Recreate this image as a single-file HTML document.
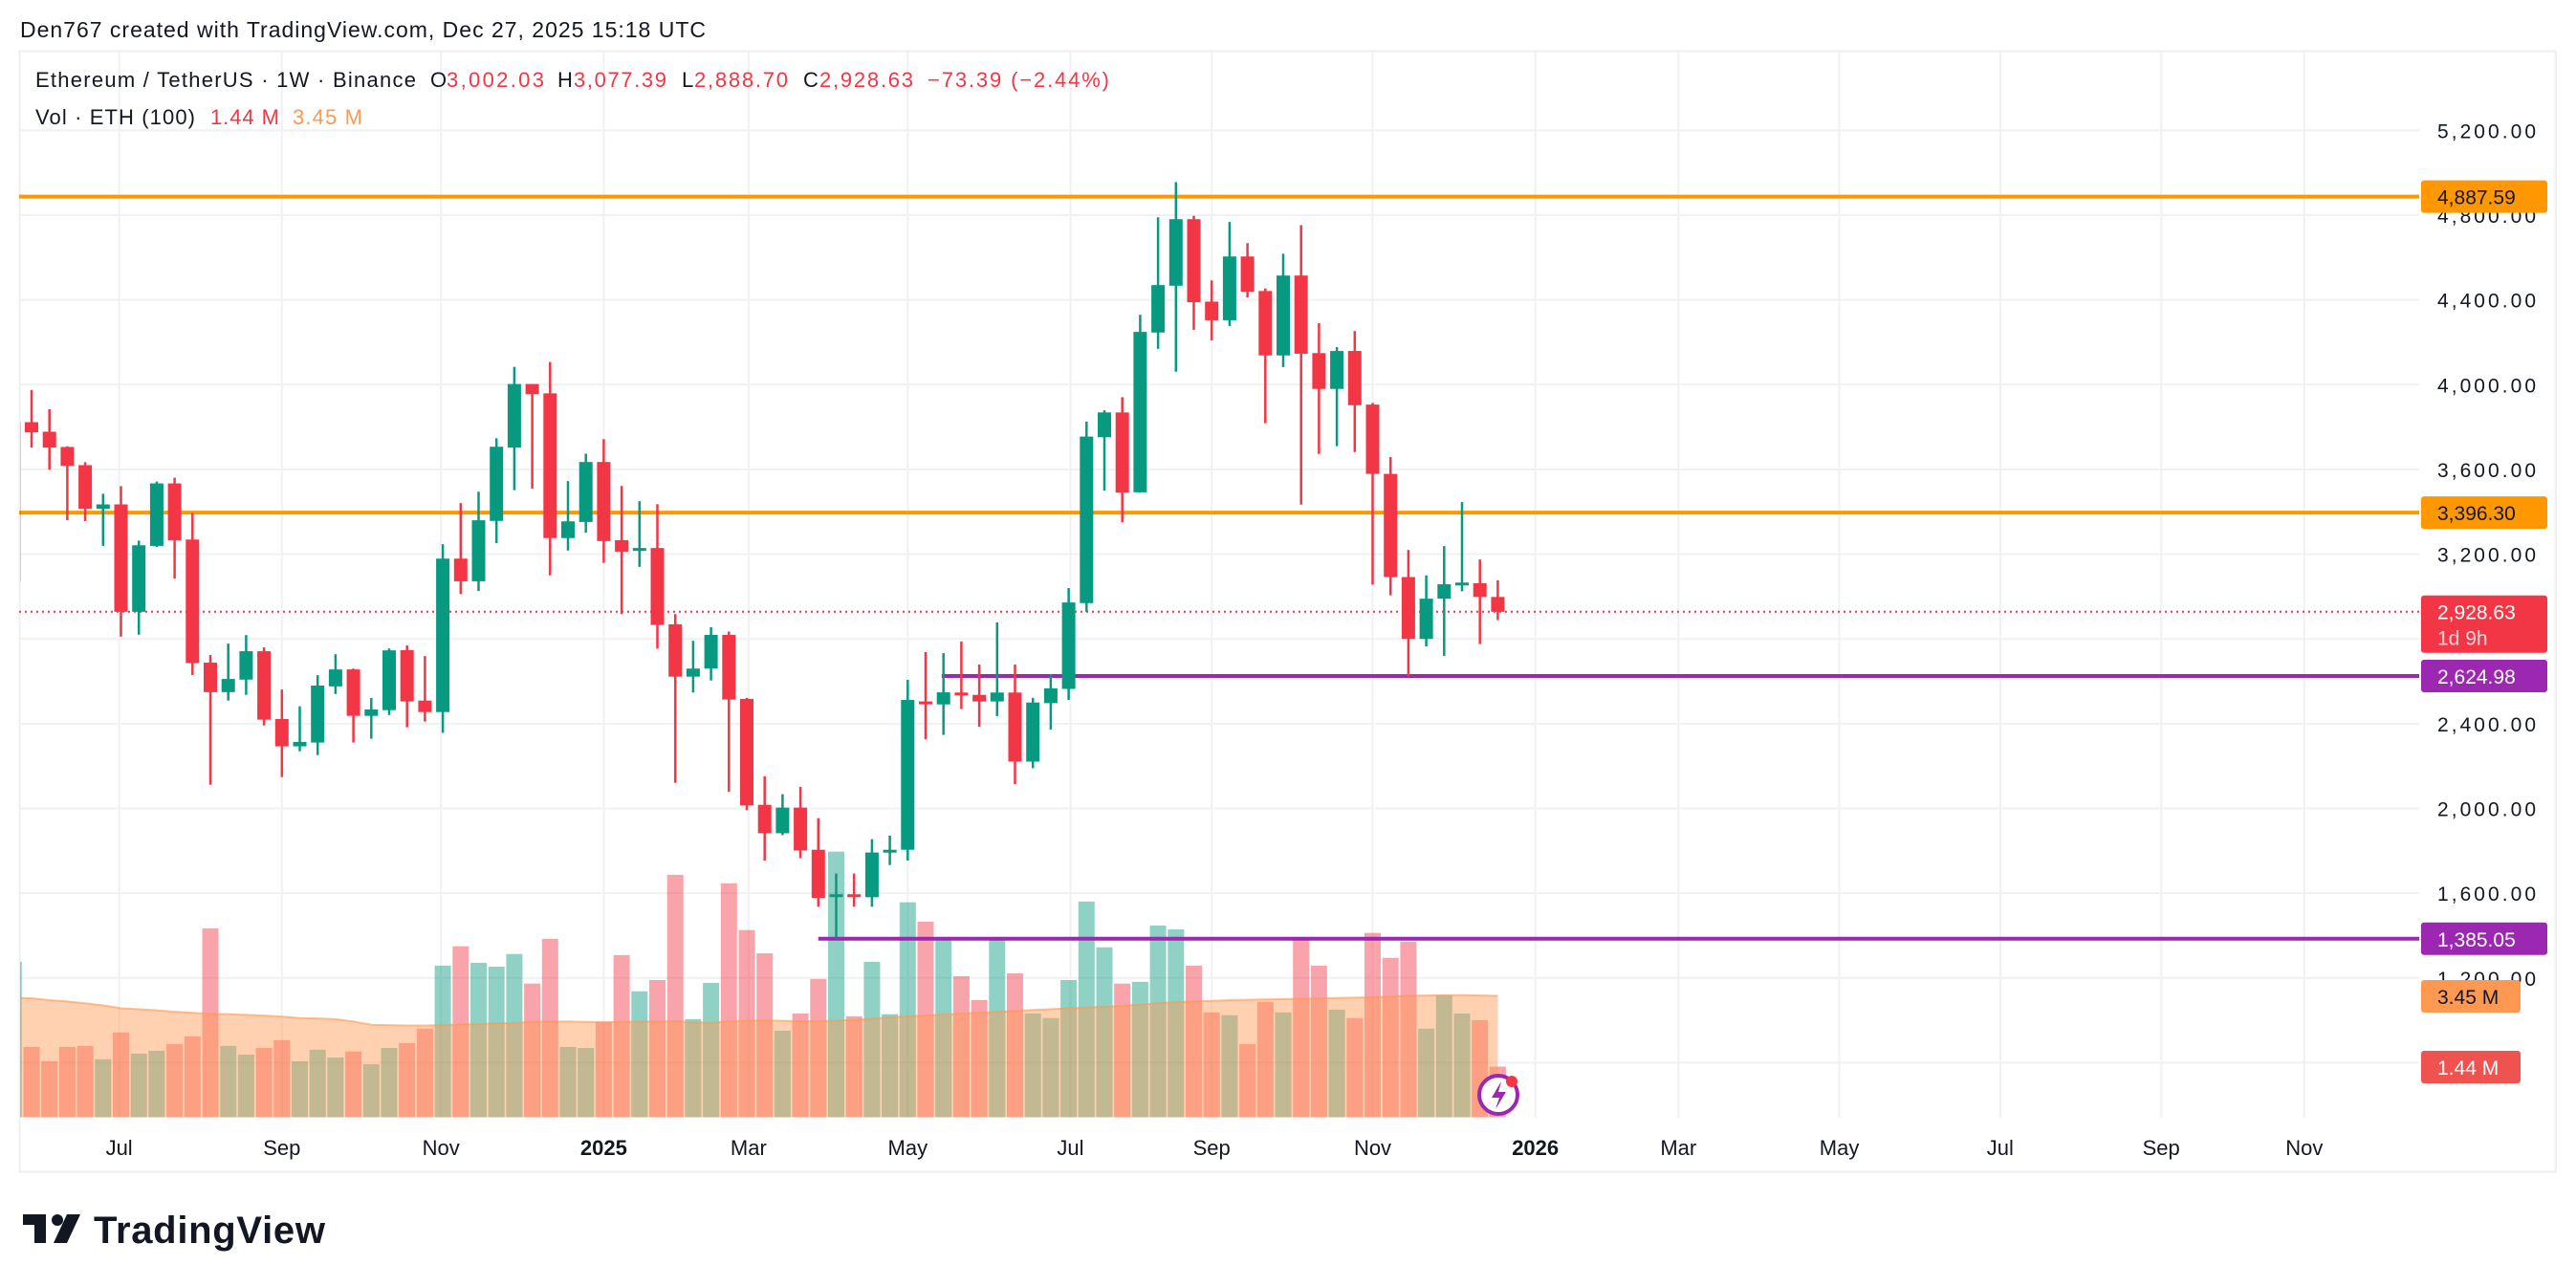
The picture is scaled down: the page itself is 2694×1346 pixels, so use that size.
<!DOCTYPE html>
<html><head><meta charset="utf-8">
<style>
html,body{margin:0;padding:0;background:#fff;}
svg{display:block;font-family:"Liberation Sans",Arial,sans-serif;}
</style></head>
<body>
<svg id="chart" width="2694" height="1346" viewBox="0 0 2694 1346" xmlns="http://www.w3.org/2000/svg">
  <rect x="0" y="0" width="2694" height="1346" fill="#ffffff"/>
  <text x="21" y="39" font-size="23" fill="#131722" textLength="717">Den767 created with TradingView.com, Dec 27, 2025 15:18 UTC</text>
  <rect x="20.5" y="53.5" width="2652" height="1172" fill="none" stroke="#eeeff2" stroke-width="2"/>
  <line x1="2673" y1="54" x2="2673" y2="1226" stroke="#eeeff2" stroke-width="2"/>
  <g id="grid"></g>
  <g id="vol"></g>
  <g id="levels"></g>
  <g id="candles"></g>
  <g id="axis"></g>
  <g id="taxis"></g>

  <g font-size="22">
    <text x="37" y="91" fill="#131722" textLength="398">Ethereum / TetherUS · 1W · Binance</text>
    <text x="450" y="91" fill="#131722">O</text>
    <text x="467" y="91" fill="#F23645" textLength="102">3,002.03</text>
    <text x="583" y="91" fill="#131722">H</text>
    <text x="600" y="91" fill="#F23645" textLength="97">3,077.39</text>
    <text x="713" y="91" fill="#131722">L</text>
    <text x="726" y="91" fill="#F23645" textLength="98">2,888.70</text>
    <text x="840" y="91" fill="#131722">C</text>
    <text x="857" y="91" fill="#F23645" textLength="98">2,928.63</text>
    <text x="970" y="91" fill="#F23645" textLength="190">−73.39 (−2.44%)</text>
    <text x="37" y="130" fill="#131722" textLength="167">Vol · ETH (100)</text>
    <text x="220" y="130" fill="#F23645" textLength="72">1.44 M</text>
    <text x="306" y="130" fill="#FF9850" textLength="73">3.45 M</text>
  </g>

  <g>
    <path d="M24 1270 H48 V1300 H36 V1281 H24 Z" fill="#131722"/>
    <circle cx="60" cy="1276" r="6" fill="#131722"/>
    <path d="M70 1270 H84 L70 1300 H56 Z" fill="#131722"/>
    <text x="98" y="1300" font-size="40" font-weight="bold" fill="#131722" textLength="242">TradingView</text>
  </g>

  <g>
    <circle cx="1567" cy="1145" r="20" fill="#fff" stroke="#9C27B0" stroke-width="4"/>
    <path d="M1570 1131 L1560 1148 H1568 L1564 1160 L1575 1142 H1567 Z" fill="#9C27B0"/>
    <circle cx="1581" cy="1131" r="6" fill="#F23645"/>
  </g>
</svg>
<script>
// ---- data (first element is a partially visible week at the left edge) ----
const opens  = [3070,3823,3778,3706,3620,3414,3435,2928,3239,3534,3269,2688,2549,2608,2742,2422,2293,2311,2576,2656,2437,2464,2747,2509,2455,3179,3072,3357,3703,4003,3959,3276,3352,3635,3266,3221,3229,2869,2622,2660,2819,2517,2017,1883,2004,1805,1588,1595,1581,1798,1805,2505,2491,2547,2536,2505,2547,2221,2497,2564,2969,3752,3869,3492,4246,4467,4781,4392,4304,4605,4442,4138,4515,4149,3980,4159,3906,3579,3092,2800,2990,3063,3063,2998];
const highs  = [3830,3975,3884,3709,3634,3485,3521,3264,3543,3561,3395,2724,2778,2818,2760,2561,2482,2629,2728,2660,2521,2755,2769,2719,3247,3441,3495,3747,4084,4003,4107,3545,3674,3743,3522,3450,3436,2917,2791,2855,2835,2522,2152,2067,2102,1954,1693,1693,1855,1872,2607,2738,2733,2788,2679,2878,2679,2522,2633,3040,3826,3879,3941,4330,4790,4956,4797,4492,4768,4668,4454,4618,4753,4290,4177,4253,3914,3658,3220,3100,3238,3446,3175,3077];
const lows   = [3060,3703,3599,3360,3356,3239,2811,2820,3234,3085,2630,2112,2509,2536,2392,2148,2270,2252,2540,2311,2329,2441,2383,2410,2357,3012,3026,3252,3502,3510,3100,3217,3302,3159,2917,3140,2754,2121,2547,2604,2078,1992,1754,1874,1765,1536,1390,1536,1536,1733,1754,2326,2347,2469,2385,2436,2114,2190,2372,2512,2928,3500,3350,3492,4169,4061,4259,4209,4277,4412,3818,4083,3434,3673,3710,3682,3056,3006,2623,2765,2720,3025,2776,2889];
const closes = [3823,3775,3703,3617,3414,3435,2928,3242,3534,3266,2686,2549,2611,2742,2419,2293,2314,2580,2656,2437,2467,2746,2505,2455,3179,3072,3360,3707,4003,3955,3276,3355,3635,3262,3212,3229,2866,2622,2660,2819,2514,2014,1883,2004,1802,1578,1595,1588,1792,1805,2512,2495,2548,2536,2505,2547,2221,2500,2567,2972,3755,3869,3491,4249,4470,4781,4389,4304,4605,4439,4138,4515,4146,3980,4159,3903,3579,3092,2800,2990,3058,3066,2998,2928];
const volumes = [4.42,2.00,1.59,2.00,2.03,1.65,2.41,1.81,1.89,2.08,2.30,5.37,2.03,1.78,1.97,2.19,1.59,1.92,1.70,1.87,1.51,1.97,2.11,2.52,4.31,4.86,4.39,4.28,4.64,3.80,5.07,2.00,1.97,2.71,4.61,3.58,3.90,6.89,2.79,3.82,6.65,5.32,4.66,2.46,2.95,3.93,7.55,2.87,4.42,2.93,6.11,5.56,5.05,4.01,3.33,5.05,4.09,2.95,2.82,3.90,6.13,4.83,3.80,3.85,5.45,5.34,4.31,2.98,2.90,2.08,3.28,2.98,5.07,4.31,3.06,2.82,5.24,4.53,4.99,2.52,3.47,2.95,2.76,1.44];
const volumeMA = [3.40,3.38,3.33,3.29,3.24,3.18,3.10,3.07,3.04,3.00,2.97,2.94,2.93,2.91,2.89,2.86,2.82,2.81,2.79,2.72,2.63,2.62,2.61,2.61,2.62,2.64,2.65,2.67,2.68,2.71,2.72,2.72,2.71,2.70,2.71,2.72,2.72,2.73,2.70,2.68,2.73,2.74,2.75,2.74,2.73,2.73,2.74,2.77,2.80,2.84,2.87,2.89,2.92,2.95,2.97,3.00,3.02,3.05,3.07,3.10,3.12,3.14,3.17,3.20,3.24,3.27,3.29,3.31,3.33,3.34,3.35,3.36,3.37,3.38,3.39,3.40,3.41,3.43,3.45,3.46,3.47,3.47,3.46,3.45];
const priceTicks = [5200,4800,4400,4000,3600,3200,2800,2400,2000,1600,1200,800];
const priceTickLabels = ["5,200.00","4,800.00","4,400.00","4,000.00","3,600.00","3,200.00","","2,400.00","2,000.00","1,600.00","1,200.00",""];
const timeLabels = ["Jul","Sep","Nov","2025","Mar","May","Jul","Sep","Nov","2026","Mar","May","Jul","Sep","Nov"];
const timeLabelWeeks = [5.9,15.0,23.9,33.0,41.1,50.0,59.1,67.0,76.0,85.1,93.1,102.1,111.1,120.1,128.1];
const levelPrices = [4887.59,3396.30];
const supportPrices = [2624.98,1385.05];
const supportStartWeek = [51.9,45.0];
const lastPrice = 2928.63;

// ---- scales ----
const NS = "http://www.w3.org/2000/svg";
const PLOT_L = 20, PLOT_R = 2530;
function yP(p){ return 402.3 - (p - 4000) * 0.2216; }
function xI(i){ return 14.3 + i * 18.7; }
const VOL_BASE = 1168.5, VOL_PX = 36.8;
function yV(v){ return VOL_BASE - v * VOL_PX; }
function mk(tag, attrs, parent){
  const e = document.createElementNS(NS, tag);
  for (const k in attrs) e.setAttribute(k, attrs[k]);
  parent.appendChild(e);
  return e;
}
const GREEN = "#089981", RED = "#F23645";

const defs = mk("defs", {}, document.getElementById("chart"));
const cp = mk("clipPath", {id:"plotclip"}, defs);
mk("rect", {x:PLOT_L+1, y:54, width:PLOT_R-PLOT_L, height:1115}, cp);

// grid
const grid = document.getElementById("grid");
priceTicks.forEach(function(p){
  const l = mk("line", {x1:PLOT_L, x2:PLOT_R, y1:yP(p), y2:yP(p), stroke:"#f0f1f3", "stroke-width":2}, grid);
  
  
});
timeLabelWeeks.forEach(function(w){
  const l = mk("line", {x1:xI(w), x2:xI(w), y1:54, y2:1169, stroke:"#f0f1f3", "stroke-width":2}, grid);
  
  
});

// volume
const vol = document.getElementById("vol");
vol.setAttribute("clip-path","url(#plotclip)");
volumes.forEach(function(v, i){
  const up = closes[i] >= opens[i];
  const r = mk("rect", {x:xI(i)-8.5, y:yV(v), width:17, height:v*VOL_PX, fill: up ? "rgba(8,153,129,0.45)" : "rgba(242,54,69,0.45)"}, vol);
  
  
});
let area = "M" + xI(0) + " " + VOL_BASE;
let line = "";
volumeMA.forEach(function(m, i){
  area += " L" + xI(i) + " " + yV(m);
  line += (i ? " L" : "M") + xI(i) + " " + yV(m);
});
area += " L" + xI(volumeMA.length-1) + " " + VOL_BASE + " Z";
const ar = mk("path", {d:area, fill:"rgba(255,152,80,0.45)"}, vol);


const ln = mk("path", {d:line, fill:"none", stroke:"rgba(255,152,80,0.6)", "stroke-width":2}, vol);



// level lines
const lv = document.getElementById("levels");
levelPrices.forEach(function(p){
  const l = mk("line", {x1:PLOT_L, x2:PLOT_R, y1:yP(p), y2:yP(p), stroke:"#FF9800", "stroke-width":4}, lv);
  
  
});
supportPrices.forEach(function(p, k){
  const l = mk("line", {x1:xI(supportStartWeek[k]), x2:PLOT_R, y1:yP(p), y2:yP(p), stroke:"#9C27B0", "stroke-width":4}, lv);
  
  
});
const cl = mk("line", {x1:PLOT_L, x2:PLOT_R, y1:yP(lastPrice), y2:yP(lastPrice), stroke:"#F23645", "stroke-width":2, "stroke-dasharray":"2 4"}, lv);



// candles
const cg = document.getElementById("candles");
cg.setAttribute("clip-path","url(#plotclip)");
opens.forEach(function(o, i){
  const c = closes[i], up = c >= o, col = up ? GREEN : RED;
  const g = mk("g", {}, cg);
  
  
  mk("rect", {x:xI(i)-1.25, y:yP(highs[i]), width:2.5, height:Math.max(1, yP(lows[i])-yP(highs[i])), fill:col}, g);
  const top = yP(Math.max(o,c)), bot = yP(Math.min(o,c));
  mk("rect", {x:xI(i)-7, y:top, width:14, height:Math.max(3, bot-top), fill:col}, g);
});

// price axis
const ax = document.getElementById("axis");
priceTicks.forEach(function(p, k){
  if (!priceTickLabels[k]) return;
  const t = mk("text", {x:2549, y:yP(p)+8, "font-size":21, fill:"#131722", textLength:103}, ax);
  t.textContent = priceTickLabels[k];
  
  
});
function badge(y, h, w, fill, lines, color, name){
  const g = mk("g", {}, ax);
  
  
  mk("rect", {x:2532, y:y, width:w, height:h, rx:3, fill:fill}, g);
  lines.forEach(function(s, j){
    const t = mk("text", {x:2549, y:y+25+j*27, "font-size":21, fill:j ? "rgba(255,255,255,0.8)" : color}, g);
    t.textContent = s;
  });
}
badge(yP(4887.59)-17, 34, 132, "#FF9800", ["4,887.59"], "#131722", "resistance-high-badge");
badge(yP(3396.30)-17, 34, 132, "#FF9800", ["3,396.30"], "#131722", "resistance-low-badge");
badge(yP(lastPrice)-17, 60, 132, "#F23645", ["2,928.63","1d 9h"], "#ffffff", "last-price-badge");
badge(yP(2624.98)-17, 34, 132, "#9C27B0", ["2,624.98"], "#ffffff", "support-high-badge");
badge(yP(1385.05)-17, 34, 132, "#9C27B0", ["1,385.05"], "#ffffff", "support-low-badge");
badge(yV(3.45)-16.5, 34, 104, "#FF9850", ["3.45 M"], "#131722", "volume-ma-badge");
badge(yV(1.44)-16.5, 34, 104, "#EF5350", ["1.44 M"], "#ffffff", "volume-last-badge");

// time axis
const ta = document.getElementById("taxis");
timeLabels.forEach(function(s, k){
  const bold = (s === "2025" || s === "2026");
  const t = mk("text", {x:xI(timeLabelWeeks[k]), y:1208, "font-size":22, "text-anchor":"middle", fill:"#131722", "font-weight": bold ? "bold" : "normal"}, ta);
  t.textContent = s;
  
  
});
</script>
</body></html>
